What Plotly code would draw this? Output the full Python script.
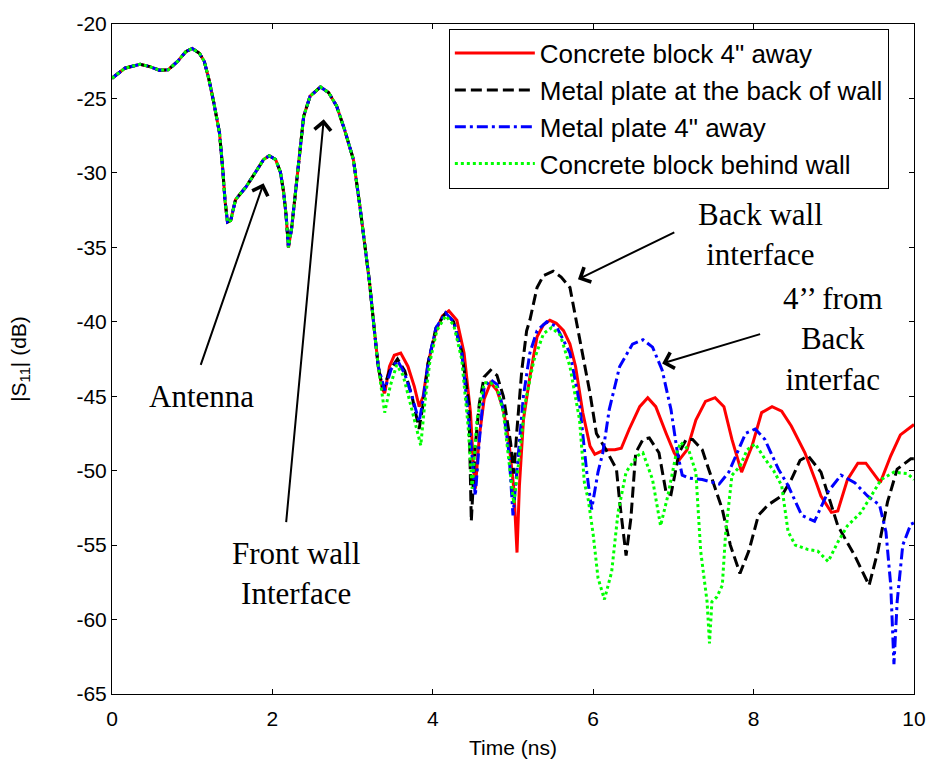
import plotly.graph_objects as go

# ---- data ----
t_common = [0, 0.16, 0.35, 0.47, 0.59, 0.70, 0.82, 0.92, 1.0, 1.09, 1.15, 1.21, 1.27, 1.34, 1.38,
            1.41, 1.44, 1.48, 1.54, 1.67, 1.79, 1.89, 1.96, 2.04, 2.10, 2.14, 2.17, 2.20, 2.24,
            2.28, 2.33, 2.39, 2.47, 2.60, 2.70, 2.80, 2.90, 3.01, 3.09, 3.15, 3.21, 3.27, 3.32]
v_common = [-23.64, -22.97, -22.7, -22.86, -23.1, -23.08, -22.5, -21.86, -21.64, -21.97, -22.5,
            -23.75, -25.3, -27.3, -29.7, -31.9, -33.3, -33.2, -31.8, -30.95, -29.95, -29.1, -28.85,
            -29.1, -29.95, -31.3, -32.8, -35.0, -33.7, -31.7, -28.85, -26.2, -24.85, -24.23, -24.6,
            -25.5, -27.1, -29.1, -32.2, -34.6, -37.3, -40.5, -43.0]

t_red = [3.37, 3.40, 3.46, 3.52, 3.60, 3.69, 3.77, 3.83, 3.88, 3.94, 4.04, 4.12, 4.20, 4.30, 4.39,
         4.47, 4.51, 4.53, 4.58, 4.64, 4.72, 4.80, 4.88, 4.95, 5.01, 5.05, 5.08, 5.13, 5.21, 5.30,
         5.38, 5.46, 5.54, 5.63, 5.71, 5.78, 5.87, 5.96, 6.02, 6.14, 6.27, 6.35, 6.45, 6.58, 6.68,
         6.78, 6.91, 7.01, 7.07, 7.17, 7.28, 7.40, 7.52, 7.63, 7.73, 7.85, 7.98, 8.10, 8.23, 8.35,
         8.47, 8.64, 8.78, 8.84, 8.97, 9.05, 9.17, 9.30, 9.40, 9.50, 9.58, 9.71, 9.83, 10.0]
v_red = [-44.5, -44.8, -43.0, -42.25, -42.1, -43.0, -44.35, -45.7, -45.0, -42.8, -40.6, -39.6,
         -39.26, -39.9, -42.1, -46.1, -50.0, -51.2, -47.7, -45.2, -44.1, -44.6, -45.9, -48.1, -51.2,
         -55.5, -51.0, -46.6, -43.7, -41.0, -40.2, -39.9, -40.1, -40.6, -41.5, -43.0, -46.1, -48.35,
         -48.9, -48.6, -48.6, -48.5, -47.2, -45.7, -45.1, -45.7, -47.5, -48.8, -49.3, -48.6, -46.6,
         -45.35, -45.1, -45.7, -47.9, -50.1, -48.35, -46.1, -45.7, -46.0, -47.0, -48.8, -50.8, -51.7,
         -52.8, -52.7, -50.6, -49.5, -49.5, -50.2, -50.8, -49.0, -47.6, -46.9]

t_black = [3.38, 3.46, 3.56, 3.65, 3.74, 3.83, 3.88, 3.94, 4.04, 4.16, 4.26, 4.36, 4.45, 4.47,
           4.48, 4.53, 4.58, 4.64, 4.72, 4.80, 4.88, 4.97, 5.01, 5.05, 5.11, 5.17, 5.21, 5.30, 5.38,
           5.50, 5.60, 5.71, 5.83, 5.96, 6.04, 6.16, 6.29, 6.33, 6.41, 6.47, 6.53, 6.62, 6.70, 6.82,
           6.91, 6.97, 7.07, 7.16, 7.24, 7.36, 7.44, 7.61, 7.71, 7.83, 7.94, 8.06, 8.18, 8.35, 8.47,
           8.58, 8.68, 8.84, 9.05, 9.26, 9.44, 9.55, 9.67, 9.79, 9.96, 10.0]
v_black = [-44.6, -43.3, -42.5, -43.3, -45.0, -47.2, -45.5, -42.8, -40.4, -39.4, -40.0, -42.0,
           -45.5, -49.9, -53.4, -48.3, -45.5, -43.7, -43.25, -43.6, -45.0, -48.1, -50.2, -47.2,
           -43.25, -40.6, -39.9, -37.7, -36.9, -36.6, -37.0, -37.7, -41.0, -44.8, -47.5, -48.6,
           -49.9, -52.1, -55.7, -53.2, -48.8, -47.9, -47.8, -48.8, -51.5, -51.6, -48.8, -47.9, -47.9,
           -48.6, -49.9, -52.6, -55.0, -56.9, -55.4, -53.0, -52.3, -51.7, -50.6, -49.3, -49.0, -50.1,
           -53.7, -55.7, -57.7, -55.4, -52.1, -49.9, -49.2, -49.2]

t_blue = [3.40, 3.48, 3.56, 3.65, 3.74, 3.83, 3.88, 3.94, 4.04, 4.16, 4.26, 4.36, 4.47, 4.53,
          4.58, 4.64, 4.72, 4.80, 4.88, 4.95, 5.00, 5.05, 5.13, 5.21, 5.30, 5.42, 5.54, 5.71, 5.83,
          5.92, 5.98, 6.06, 6.12, 6.20, 6.33, 6.49, 6.62, 6.74, 6.86, 6.97, 7.05, 7.11, 7.19, 7.36,
          7.57, 7.69, 7.79, 7.90, 8.02, 8.14, 8.31, 8.43, 8.60, 8.76, 8.93, 9.09, 9.26, 9.42, 9.57,
          9.65, 9.71, 9.75, 9.79, 9.86, 9.96, 10.0]
v_blue = [-44.6, -43.2, -42.6, -43.5, -45.0, -46.7, -45.2, -42.8, -40.4, -39.4, -40.0, -42.0,
          -47.7, -51.7, -48.0, -44.4, -43.9, -44.2, -45.9, -48.8, -53.0, -49.9, -45.0, -42.1, -40.6,
          -40.0, -40.3, -42.1, -45.5, -50.1, -52.6, -50.1, -48.8, -45.9, -43.0, -41.5, -41.2, -41.7,
          -43.25, -45.9, -48.8, -50.3, -50.5, -50.6, -50.9, -50.1, -48.8, -47.5, -47.2, -47.9,
          -49.9, -51.0, -53.0, -53.4, -51.4, -50.3, -50.8, -51.7, -52.3, -54.1, -57.7, -63.0, -58.8,
          -55.0, -53.6, -53.5]

t_green = [3.40, 3.47, 3.55, 3.63, 3.72, 3.80, 3.85, 3.90, 3.96, 4.05, 4.16, 4.26, 4.36, 4.44,
           4.49, 4.55, 4.64, 4.72, 4.80, 4.88, 4.95, 5.01, 5.07, 5.15, 5.26, 5.38, 5.48, 5.59, 5.71,
           5.83, 5.89, 5.94, 6.00, 6.06, 6.14, 6.23, 6.31, 6.41, 6.55, 6.62, 6.74, 6.78, 6.84, 6.93,
           7.03, 7.09, 7.19, 7.28, 7.34, 7.42, 7.45, 7.48, 7.54, 7.61, 7.65, 7.73, 7.83, 7.92, 8.02,
           8.14, 8.25, 8.35, 8.43, 8.52, 8.68, 8.80, 8.93, 9.05, 9.17, 9.34, 9.46, 9.59, 9.75, 9.92,
           10.0]
v_green = [-46.1, -44.3, -42.9, -43.6, -45.5, -47.3, -48.3, -45.5, -42.8, -40.6, -39.6, -40.2,
           -42.5, -47.0, -51.2, -46.6, -44.1, -44.1, -44.4, -46.1, -49.5, -52.2, -49.5, -45.5,
           -42.6, -40.8, -40.4, -40.9, -43.0, -46.6, -50.8, -52.0, -54.3, -57.2, -58.65, -56.8,
           -52.8, -50.1, -49.0, -48.8, -50.6, -51.9, -53.7, -51.7, -49.0, -48.1, -48.6, -50.1,
           -55.4, -58.8, -61.6, -58.8, -58.5, -57.7, -54.3, -50.3, -49.7, -48.6, -48.2, -49.2,
           -50.0, -51.0, -54.1, -55.0, -55.3, -55.4, -56.1, -54.8, -53.7, -52.8, -51.7, -50.6,
           -50.1, -50.2, -50.6]

x_ticks = [0, 2, 4, 6, 8, 10]
y_ticks = [-65, -60, -55, -50, -45, -40, -35, -30, -25, -20]
y_ticklabels = ['-65', '-60', '-55', '-50', '-45', '-40', '-35', '-30', '-25', '-20']

names = ['Concrete block 4" away', 'Metal plate at the back of wall',
         'Metal plate 4" away', 'Concrete block behind wall']
colors = ['#ff0000', '#000000', '#0000ff', '#00ff00']
dashes = ['solid', '11px,5px', '11px,4px,3px,4px', '3px,3px']
tails = [(t_red, v_red), (t_black, v_black), (t_blue, v_blue), (t_green, v_green)]

fig = go.Figure()
for name, col, dash, (tt, vv) in zip(names, colors, dashes, tails):
    fig.add_trace(go.Scatter(x=t_common + tt, y=v_common + vv, mode='lines', name=name,
                             line=dict(color=col, width=3, dash=dash)))

serif = dict(family='Liberation Serif, Times New Roman, serif', size=31, color='black')
sans = 'Liberation Sans, Arial, sans-serif'

# arrows: (head_x, head_y, tail_x, tail_y)
arrows = [(1.89, -30.7, 1.10, -43.0), (2.64, -26.4, 2.17, -53.56),
          (5.81, -37.15, 7.03, -33.94), (6.86, -42.8, 8.10, -40.8)]
for hx, hy, tx, ty in arrows:
    fig.add_annotation(x=hx, y=hy, ax=tx, ay=ty, xref='x', yref='y', axref='x', ayref='y',
                       text='', showarrow=True, arrowhead=4, arrowsize=1.6, arrowwidth=2,
                       arrowcolor='black')

labels = [(1.11, -45.0, 'Antenna'), (2.30, -56.93, 'Front wall<br>Interface'),
          (8.08, -34.16, 'Back wall<br>interface'), (8.99, -41.14, '4’’ from<br>Back<br>interfac')]
for lx, ly, txt in labels:
    fig.add_annotation(x=lx, y=ly, xref='x', yref='y', text=txt, showarrow=False,
                       font=serif, align='center')

axis_common = dict(showline=True, linecolor='black', linewidth=1, mirror='allticks',
                   ticks='inside', ticklen=5, tickcolor='black', showgrid=False, zeroline=False,
                   tickfont=dict(family=sans, size=21, color='black'))

fig.update_layout(
    width=938, height=770,
    margin=dict(l=112, r=18, t=17, b=76),
    plot_bgcolor='white', paper_bgcolor='white',
    xaxis=dict(range=[0, 10], tickvals=x_ticks, ticklabelstandoff=6,
               title=dict(text='Time (ns)', standoff=11,
                          font=dict(family=sans, size=21, color='black')), **axis_common),
    yaxis=dict(range=[-65, -20], tickvals=y_ticks, ticktext=y_ticklabels,
               title=dict(text='|S<sub>11</sub>| (dB)', standoff=44,
                          font=dict(family=sans, size=21, color='black')), **axis_common),
    legend=dict(x=0.42, y=0.993, xanchor='left', yanchor='top', bgcolor='white',
                bordercolor='black', borderwidth=1, itemwidth=80,
                font=dict(family=sans, size=26, color='black')),
    showlegend=True,
)

fig.write_html('out.html')
